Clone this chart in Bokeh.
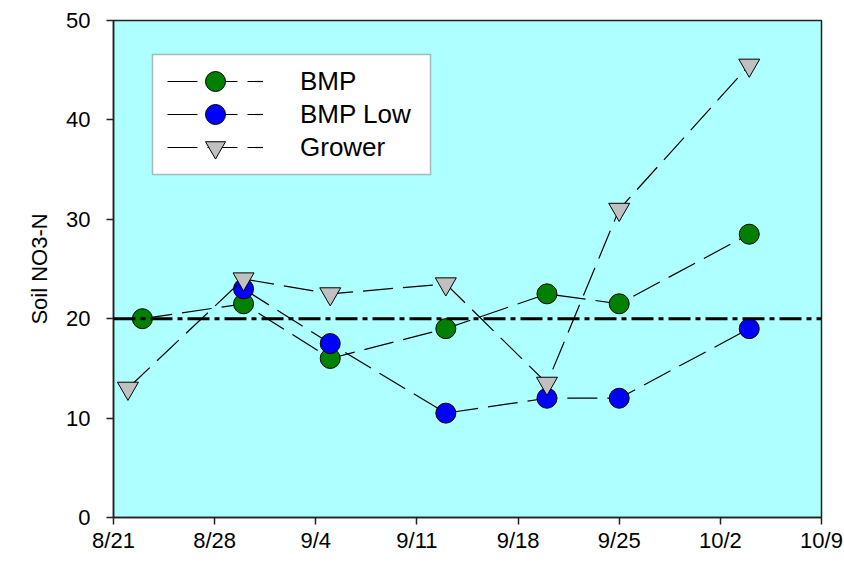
from datetime import date
from bokeh.plotting import figure
from bokeh.models import Range1d, FixedTicker, Span, Legend, LegendItem, BoxAnnotation
from bokeh.embed import file_html
from bokeh.resources import INLINE

# ---- data ----
bmp_dates = ["8/23", "8/30", "9/5", "9/13", "9/20", "9/25", "10/4"]
bmp = [20, 21.5, 16, 19, 22.5, 21.5, 28.5]
bmp_low_dates = ["8/30", "9/5", "9/13", "9/20", "9/25", "10/4"]
bmp_low = [23, 17.5, 10.5, 12, 12, 19]
grower_dates = ["8/22", "8/30", "9/5", "9/13", "9/20", "9/25", "10/4"]
grower = [13, 24, 22.5, 23.5, 13.5, 31, 45.5]
x_tick_labels = ["8/21", "8/28", "9/4", "9/11", "9/18", "9/25", "10/2", "10/9"]
y_ticks = [0, 10, 20, 30, 40, 50]
threshold = 20


def day(s):
    m, d = map(int, s.split("/"))
    return (date(2000, m, d) - date(2000, 8, 21)).days


x_ticks = [day(s) for s in x_tick_labels]

FONT = "Liberation Sans"

p = figure(width=844, height=574, output_backend="svg", toolbar_location=None,
           x_range=Range1d(x_ticks[0], x_ticks[-1]), y_range=Range1d(y_ticks[0], y_ticks[-1]),
           min_border_left=113, min_border_right=23, min_border_top=20, min_border_bottom=57)
p.background_fill_color = "#aeffff"
p.border_fill_color = "white"
p.outline_line_color = "#222222"
p.outline_line_width = 1.5
p.xgrid.visible = False
p.ygrid.visible = False

for ax in (p.xaxis[0], p.yaxis[0]):
    ax.axis_line_color = "#222222"
    ax.axis_line_width = 1.5
    ax.major_tick_line_color = "#222222"
    ax.major_tick_line_width = 1.5
    ax.major_tick_out = 7
    ax.major_tick_in = 0
    ax.minor_tick_line_color = None
    ax.major_label_text_font = FONT
    ax.major_label_text_font_size = "22px"
    ax.major_label_text_color = "black"

p.xaxis.ticker = FixedTicker(ticks=x_ticks)
p.xaxis.major_label_overrides = {t: l for t, l in zip(x_ticks, x_tick_labels)}
p.xaxis.major_label_standoff = 3
p.yaxis.ticker = FixedTicker(ticks=y_ticks)
p.yaxis.major_label_standoff = 16
p.yaxis.axis_label = "Soil NO3-N"
p.yaxis.axis_label_text_font = FONT
p.yaxis.axis_label_text_font_size = "22px"
p.yaxis.axis_label_text_font_style = "normal"
p.yaxis.axis_label_text_color = "black"
p.yaxis.axis_label_standoff = 11

p.add_layout(Span(location=threshold, dimension="width", line_color="black",
                  line_width=3, line_dash="22 5 5 5"))

DASH = "30 10"
series = [
    ("BMP", bmp_dates, bmp, "circle", "#008000", 20),
    ("BMP Low", bmp_low_dates, bmp_low, "circle", "#0000ff", 20),
    ("Grower", grower_dates, grower, "inverted_triangle", "#c0c0c0", 21),
]
entries = []
for name, ds, vals, marker, color, size in series:
    xs = [day(s) for s in ds]
    ln = p.line(xs, vals, line_color="black", line_width=1.2, line_dash=DASH)
    sc = p.scatter(xs, vals, marker=marker, size=size, fill_color=color,
                   line_color="black", line_width=1)
    entries.append(LegendItem(label=name, renderers=[ln, sc]))

# legend frame
p.add_layout(BoxAnnotation(left=152, right=430, top=54, bottom=174,
                           left_units="canvas", right_units="canvas",
                           top_units="canvas", bottom_units="canvas",
                           fill_color="white", fill_alpha=1,
                           line_color="#222222", line_width=1.5))

# one legend per row so the rows can sit closer than the glyph height
row_bottoms = [411, 378, 345]
for item, yb in zip(entries, row_bottoms):
    lg = Legend(items=[item], location=(54, yb))
    lg.glyph_width = 96
    lg.glyph_height = 50
    lg.label_height = 30
    lg.padding = 0
    lg.margin = 0
    lg.label_standoff = 37
    lg.label_text_font = FONT
    lg.label_text_font_size = "26px"
    lg.label_text_color = "black"
    lg.border_line_color = None
    lg.background_fill_alpha = 0
    p.add_layout(lg, "center")

open("out.html", "w").write(file_html(p, INLINE))
